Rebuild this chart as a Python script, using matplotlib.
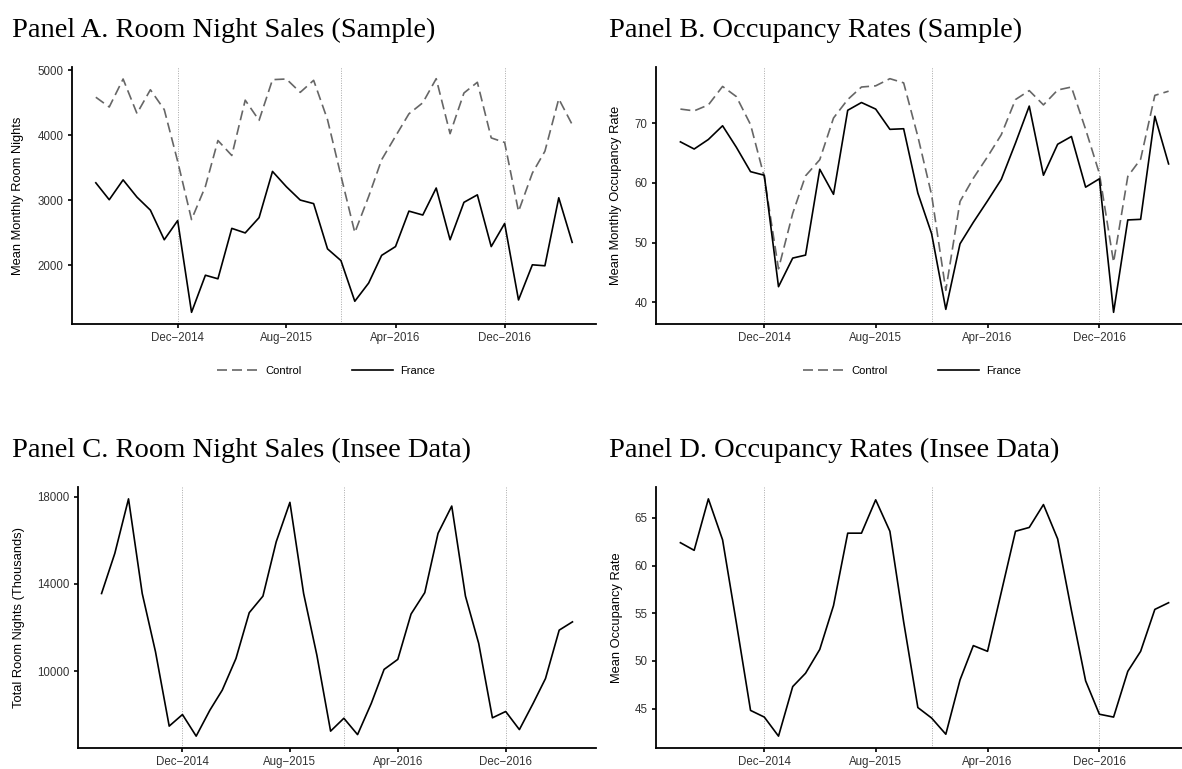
import matplotlib
matplotlib.use("Agg")
import matplotlib.pyplot as plt
import matplotlib.dates as mdates
from matplotlib.lines import Line2D
import pandas as pd

# ---- data -------------------------------------------------------------
months = pd.date_range("2014-06-01", "2017-05-01", freq="MS")

tick_dates = pd.to_datetime(["2014-12-01", "2015-08-01", "2016-04-01", "2016-12-01"])
tick_labels = ["Dec\u22122014", "Aug\u22122015", "Apr\u22122016", "Dec\u22122016"]
season_breaks = pd.to_datetime(["2014-12-01", "2015-12-01", "2016-12-01"])

rooms_france = [3270, 3010, 3315, 3050, 2850, 2395, 2690, 1280, 1850, 1795,
                2570, 2500, 2735, 3445, 3210, 3005, 2950, 2255, 2075, 1450,
                1730, 2155, 2290, 2835, 2775, 3190, 2395, 2970, 3085, 2290,
                2645, 1470, 2010, 1995, 3040, 2355]
rooms_control = [4585, 4435, 4865, 4335, 4700, 4395, 3600, 2705, 3215, 3920,
                 3690, 4540, 4230, 4855, 4865, 4660, 4845, 4240, 3380, 2505,
                 3060, 3625, 3985, 4330, 4500, 4870, 4025, 4650, 4815, 3960,
                 3890, 2830, 3420, 3755, 4560, 4165]

occ_france = [66.9, 65.7, 67.3, 69.6, 66.0, 61.9, 61.3, 42.6, 47.4, 47.9,
              62.3, 58.1, 72.2, 73.5, 72.4, 69.0, 69.1, 58.3, 51.5, 38.8,
              49.8, 53.4, 57.0, 60.6, 66.7, 72.9, 61.3, 66.5, 67.8, 59.3,
              60.7, 38.3, 53.8, 53.9, 71.2, 63.2]
occ_control = [72.4, 72.1, 73.1, 76.2, 74.5, 69.8, 61.0, 45.6, 54.9, 61.2,
               63.9, 70.9, 74.0, 76.1, 76.3, 77.5, 76.8, 67.8, 58.0, 42.0,
               56.9, 60.8, 64.4, 68.1, 74.0, 75.5, 73.1, 75.6, 76.1, 69.0,
               61.6, 46.7, 61.1, 64.0, 74.7, 75.4]

insee_rooms = [13560, 15400, 17900, 13560, 10890, 7480, 8010, 7020, 8210, 9130,
               10580, 12680, 13440, 15930, 17740, 13560, 10730, 7250, 7840, 7090,
               8520, 10080, 10540, 12620, 13600, 16320, 17570, 13440, 11270, 7860,
               8150, 7320, 8520, 9660, 11880, 12260]
insee_occ = [62.4, 61.6, 67.0, 62.7, 54.0, 44.8, 44.1, 42.1, 47.3, 48.7,
             51.2, 55.8, 63.4, 63.4, 66.9, 63.6, 54.1, 45.1, 44.0, 42.3,
             48.0, 51.6, 51.0, 57.2, 63.6, 64.0, 66.4, 62.8, 55.3, 47.9,
             44.4, 44.1, 48.9, 51.0, 55.4, 56.1]

# ---- styling -----------------------------------------------------------
W, H = 1182, 769
SANS = "Liberation Sans"
SERIF = "Liberation Serif"
TICK_COLOR = "#333333"
CONTROL_COLOR = "#666666"
DASHES = (6, 3)

fig = plt.figure(figsize=(W / 100, H / 100), dpi=100)


def panel(left, right, top, bottom):
    return fig.add_axes([left / W, 1 - bottom / H, (right - left) / W, (bottom - top) / H])


def expand(values, frac=0.05):
    lo, hi = min(values), max(values)
    pad = (hi - lo) * frac
    return lo - pad, hi + pad


def style(ax, yticks, ylims_from):
    for side in ("top", "right"):
        ax.spines[side].set_visible(False)
    for side in ("left", "bottom"):
        ax.spines[side].set_linewidth(1.3)
        ax.spines[side].set_color("black")
    ax.tick_params(direction="out", length=3, width=1.2, color="black",
                   labelsize=8.3, labelcolor=TICK_COLOR, pad=3)
    x0 = mdates.date2num(months[0])
    x1 = mdates.date2num(months[-1])
    span = (x1 - x0) * 0.05
    ax.set_xlim(x0 - span, x1 + span)
    ax.set_xticks(mdates.date2num(tick_dates))
    ax.set_xticklabels(tick_labels, fontfamily=SANS)
    ax.set_yticks(yticks)
    ax.set_yticklabels([str(t) for t in yticks], fontfamily=SANS)
    ax.set_ylim(*expand(ylims_from))
    for d in season_breaks:
        ax.axvline(d, color="#a8a8a8", lw=0.7, ls=(0, (1, 1.5)), zorder=0)


def ylabel(x, ax, text):
    pos = ax.get_position()
    fig.text(x / W, pos.y0 + pos.height / 2, text, rotation=90, ha="center",
             va="center", fontsize=9.3, fontfamily=SANS, color="black")


def title(x, baseline, text):
    fig.text(x / W, 1 - baseline / H, text, ha="left", va="baseline",
             fontsize=20.5, fontfamily=SERIF, color="black")


def legend(x_px, y_px):
    handles = [
        Line2D([], [], color=CONTROL_COLOR, lw=1.2, dashes=DASHES, label="Control"),
        Line2D([], [], color="black", lw=1.2, label="France"),
    ]
    fig.legend(handles=handles, loc="center",
               bbox_to_anchor=(x_px / W, 1 - y_px / H),
               ncol=2, frameon=False, handlelength=3.7, handletextpad=0.6,
               columnspacing=4.6, prop={"family": SANS, "size": 8})


# Panel A
axA = panel(72, 596, 67, 324)
axA.plot(months, rooms_control, color=CONTROL_COLOR, lw=1.2, dashes=DASHES)
axA.plot(months, rooms_france, color="black", lw=1.2)
style(axA, [2000, 3000, 4000, 5000], rooms_france + rooms_control)
ylabel(18, axA, "Mean Monthly Room Nights")
title(12, 37, "Panel A. Room Night Sales (Sample)")
legend(326, 371)

# Panel B
axB = panel(656, 1193, 67, 324)
axB.plot(months, occ_control, color=CONTROL_COLOR, lw=1.2, dashes=DASHES)
axB.plot(months, occ_france, color="black", lw=1.2)
style(axB, [40, 50, 60, 70], occ_france + occ_control)
ylabel(616, axB, "Mean Monthly Occupancy Rate")
title(609, 37, "Panel B. Occupancy Rates (Sample)")
legend(912, 371)

# Panel C
axC = panel(78, 596, 487, 748)
axC.plot(months, insee_rooms, color="black", lw=1.2)
style(axC, [10000, 14000, 18000], insee_rooms)
ylabel(19, axC, "Total Room Nights (Thousands)")
title(12, 457, "Panel C. Room Night Sales (Insee Data)")

# Panel D
axD = panel(656, 1193, 487, 748)
axD.plot(months, insee_occ, color="black", lw=1.2)
style(axD, [45, 50, 55, 60, 65], insee_occ)
ylabel(617, axD, "Mean Occupancy Rate")
title(609, 457, "Panel D. Occupancy Rates (Insee Data)")

fig.savefig("out.png", dpi=100)
